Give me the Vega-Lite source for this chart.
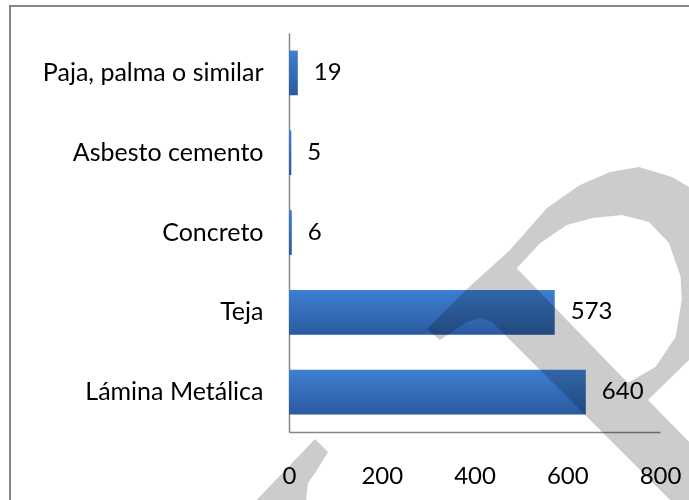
{
  "$schema": "https://vega.github.io/schema/vega-lite/v6.json",
  "autosize": "none",
  "width": 371,
  "height": 399,
  "padding": {"left": 289, "top": 33, "right": 29, "bottom": 68},
  "background": "white",
  "title": {
    "text": ["Viviendas particulares habitadas por material", "de techo, Chiapas"],
    "font": "Liberation Serif",
    "fontSize": 18,
    "fontWeight": "bold",
    "color": "#000000",
    "anchor": "middle",
    "offset": 28,
    "dx": -89,
    "lineHeight": 22
  },
  "datasets": {
    "techo": [
      {"material": "Paja, palma o similar", "viviendas": 19},
      {"material": "Asbesto cemento", "viviendas": 5},
      {"material": "Concreto", "viviendas": 6},
      {"material": "Teja", "viviendas": 573},
      {"material": "Lámina Metálica", "viviendas": 640}
    ],
    "marca": [
      {"part": "R", "i": 1, "wx": 297.6, "wy": 1.291},
      {"part": "R", "i": 2, "wx": 383.8, "wy": 1.792},
      {"part": "R", "i": 3, "wx": 476.5, "wy": 2.281},
      {"part": "R", "i": 4, "wx": 556.3, "wy": 2.807},
      {"part": "R", "i": 5, "wx": 627.5, "wy": 3.095},
      {"part": "R", "i": 6, "wx": 692.2, "wy": 3.258},
      {"part": "R", "i": 7, "wx": 754.7, "wy": 3.321},
      {"part": "R", "i": 8, "wx": 825.9, "wy": 3.195},
      {"part": "R", "i": 9, "wx": 862.5, "wy": 3.070},
      {"part": "R", "i": 10, "wx": 950.9, "wy": 2.657},
      {"part": "R", "i": 11, "wx": 994.1, "wy": 1.654},
      {"part": "R", "i": 12, "wx": 846.8, "wy": 1.654},
      {"part": "R", "i": 13, "wx": 844.6, "wy": 1.942},
      {"part": "R", "i": 14, "wx": 819.4, "wy": 2.368},
      {"part": "R", "i": 15, "wx": 776.3, "wy": 2.632},
      {"part": "R", "i": 16, "wx": 718.1, "wy": 2.719},
      {"part": "R", "i": 17, "wx": 655.5, "wy": 2.682},
      {"part": "R", "i": 18, "wx": 598.8, "wy": 2.594},
      {"part": "R", "i": 19, "wx": 541.2, "wy": 2.365},
      {"part": "R", "i": 20, "wx": 491.0, "wy": 2.051},
      {"part": "R", "i": 21, "wx": 731.0, "wy": 0.614},
      {"part": "R", "i": 22, "wx": 790.7, "wy": 0.818},
      {"part": "R", "i": 23, "wx": 833.9, "wy": 1.194},
      {"part": "R", "i": 24, "wx": 846.8, "wy": 1.654},
      {"part": "R", "i": 25, "wx": 994.1, "wy": 1.654},
      {"part": "R", "i": 26, "wx": 950.9, "wy": 1.216},
      {"part": "R", "i": 27, "wx": 862.5, "wy": 0.902},
      {"part": "R", "i": 28, "wx": 774.1, "wy": 0.401},
      {"part": "R", "i": 29, "wx": 862.5, "wy": -0.122},
      {"part": "R", "i": 30, "wx": 972.5, "wy": -0.764},
      {"part": "R", "i": 31, "wx": 972.5, "wy": -1.228},
      {"part": "R", "i": 32, "wx": 886.3, "wy": -1.228},
      {"part": "R", "i": 33, "wx": 437.7, "wy": 1.378},
      {"part": "R", "i": 34, "wx": 411.9, "wy": 1.429},
      {"part": "R", "i": 35, "wx": 383.8, "wy": 1.378},
      {"part": "R", "i": 36, "wx": 325.6, "wy": 1.153},
      {"part": "F", "i": 1, "wx": 56.1, "wy": -0.088},
      {"part": "F", "i": 2, "wx": 84.1, "wy": -0.251},
      {"part": "F", "i": 3, "wx": 60.4, "wy": -0.476},
      {"part": "F", "i": 4, "wx": 41.0, "wy": -0.639},
      {"part": "F", "i": 5, "wx": 34.5, "wy": -0.977},
      {"part": "F", "i": 6, "wx": -90.6, "wy": -0.977}
    ],
    "marco": [
      {"i": 1, "wx": -601.6, "wy": -0.977},
      {"i": 2, "wx": -601.6, "wy": 5.338},
      {"i": 3, "wx": 886.3, "wy": 5.338}
    ]
  },
  "layer": [
    {
      "data": {"name": "marco"},
      "mark": {"type": "line", "color": "#878787", "strokeWidth": 2},
      "encoding": {
        "x": {"field": "wx", "type": "quantitative", "scale": {"domain": [0, 800], "nice": false, "zero": false}, "axis": null},
        "y": {"field": "wy", "type": "quantitative", "scale": {"domain": [0, 5], "nice": false, "zero": false}, "axis": null},
        "order": {"field": "i"}
      }
    },
    {
      "data": {"name": "techo"},
      "mark": {
        "type": "bar",
        "color": {
          "gradient": "linear",
          "x1": 0, "y1": 0, "x2": 0, "y2": 1,
          "stops": [
            {"offset": 0, "color": "#3d7fd2"},
            {"offset": 1, "color": "#2a5a9e"}
          ]
        }
      },
      "encoding": {
        "y": {
          "field": "material",
          "type": "nominal",
          "sort": null,
          "scale": {"paddingInner": 0.44, "paddingOuter": 0.22},
          "axis": {
            "title": null,
            "ticks": false,
            "domainColor": "#868686",
            "domainWidth": 1.5,
            "labelFont": "Lato",
            "labelFontSize": 25,
            "labelColor": "#000000",
            "labelPadding": 26,
            "labelLimit": 300
          }
        },
        "x": {
          "field": "viviendas",
          "type": "quantitative",
          "scale": {"domain": [0, 800], "nice": false},
          "axis": {
            "title": null,
            "values": [0, 200, 400, 600, 800],
            "ticks": false,
            "grid": false,
            "domainColor": "#868686",
            "domainWidth": 1.5,
            "labelFont": "Lato",
            "labelFontSize": 24,
            "labelColor": "#000000",
            "labelPadding": 32,
            "labelFlush": false
          }
        }
      }
    },
    {
      "data": {"name": "techo"},
      "mark": {"type": "text", "align": "left", "baseline": "middle", "dx": 16, "font": "Lato", "fontSize": 24, "color": "#000000"},
      "encoding": {
        "y": {"field": "material", "type": "nominal", "sort": null, "scale": {"paddingInner": 0.44, "paddingOuter": 0.22}, "axis": null},
        "x": {"field": "viviendas", "type": "quantitative", "scale": {"domain": [0, 800], "nice": false}, "axis": null},
        "text": {"field": "viviendas", "type": "quantitative"}
      }
    },
    {
      "data": {"name": "marca"},
      "mark": {"type": "line", "color": "#cccccc", "fill": "#cccccc", "strokeWidth": 0, "blend": "multiply"},
      "encoding": {
        "x": {"field": "wx", "type": "quantitative", "scale": {"domain": [0, 800], "nice": false, "zero": false}, "axis": null},
        "y": {"field": "wy", "type": "quantitative", "scale": {"domain": [0, 5], "nice": false, "zero": false}, "axis": null},
        "detail": {"field": "part"},
        "order": {"field": "i"}
      }
    }
  ],
  "resolve": {"scale": {"x": "independent", "y": "independent"}},
  "config": {"view": {"stroke": null}}
}
